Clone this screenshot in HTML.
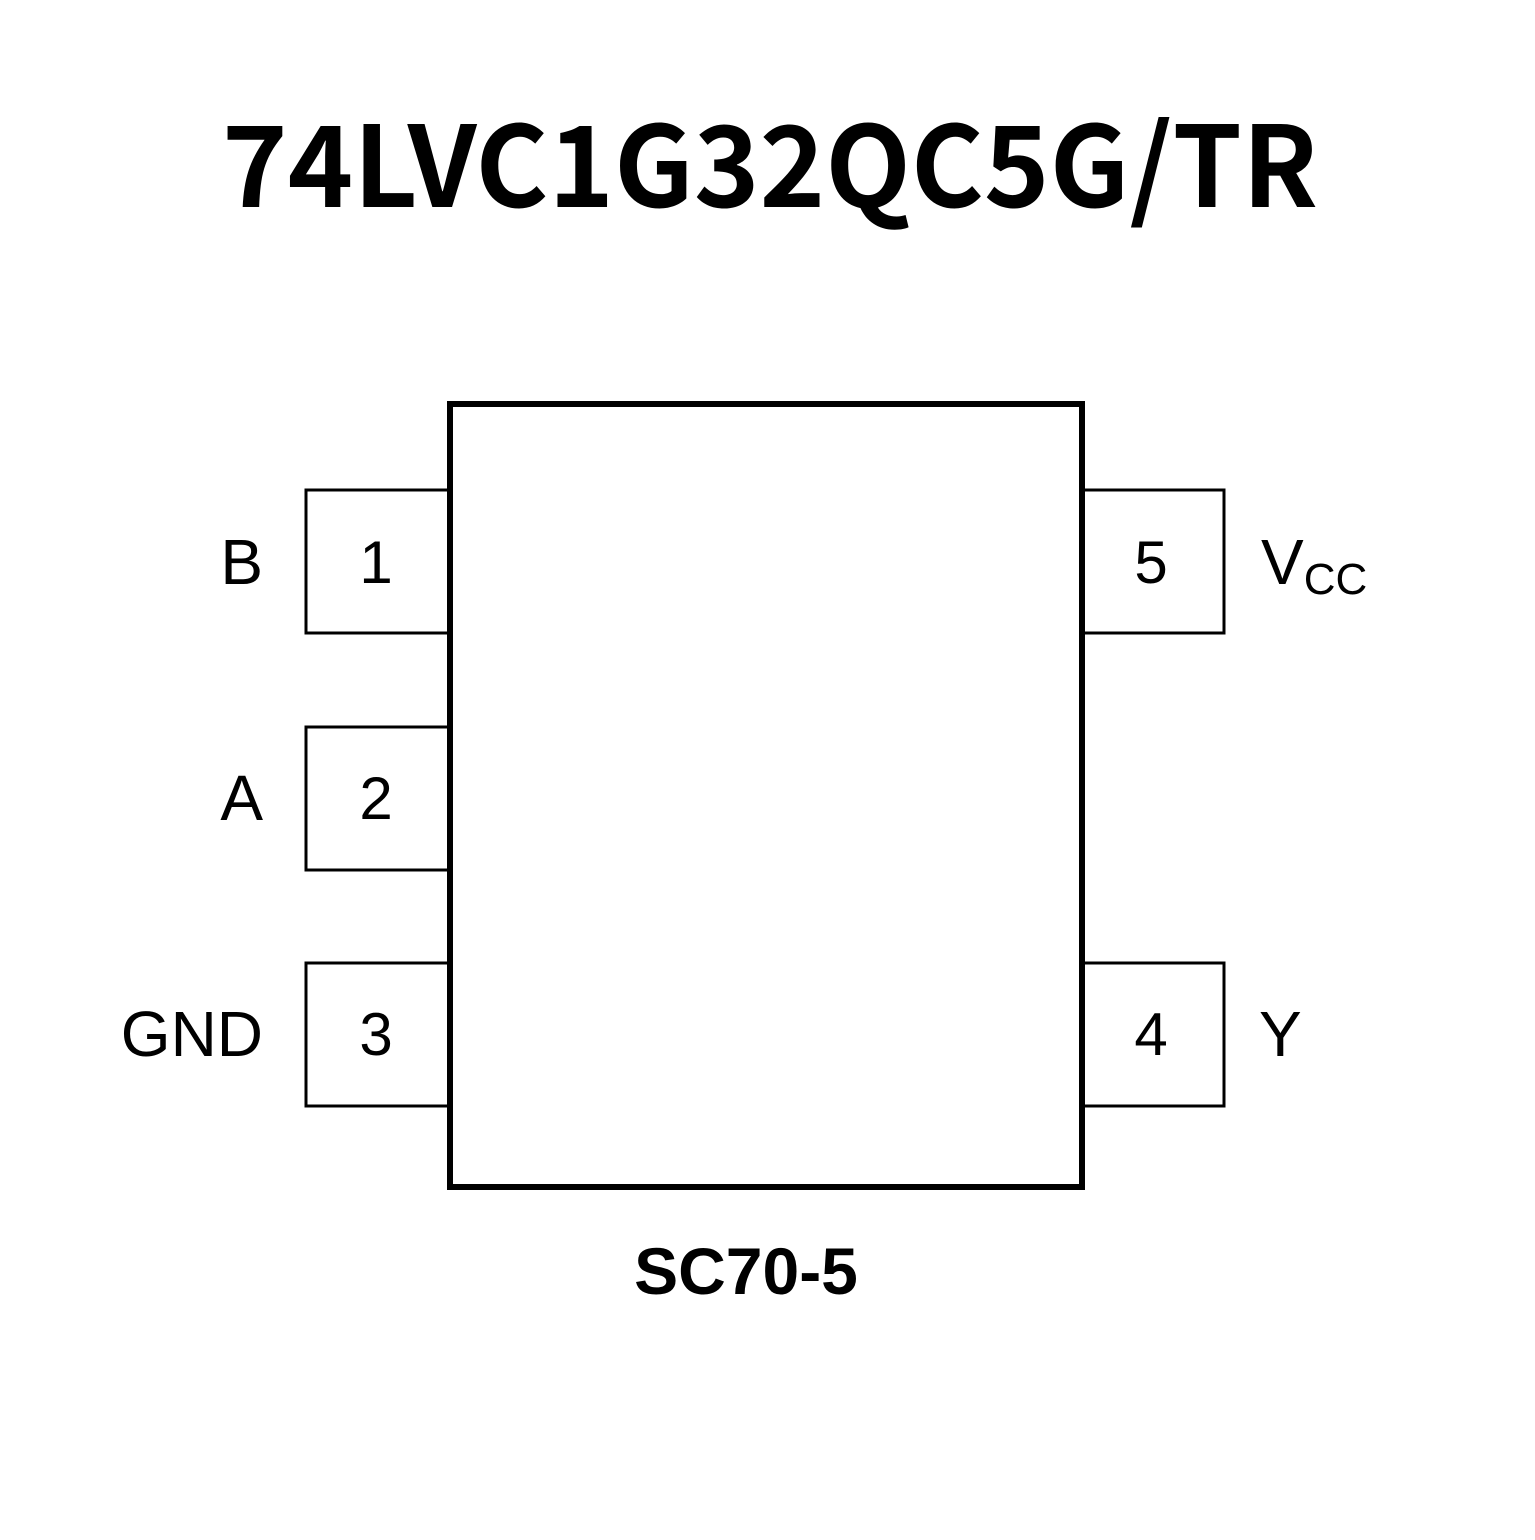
<!DOCTYPE html>
<html><head><meta charset="utf-8"><style>html,body{margin:0;padding:0;background:#fff}</style></head>
<body>
<svg width="1535" height="1535" viewBox="0 0 1535 1535" xmlns="http://www.w3.org/2000/svg">
<rect width="1535" height="1535" fill="#fff"/>
<text x="770" y="207" text-anchor="middle" font-family="'Noto Sans CJK SC','DejaVu Sans',sans-serif" font-weight="bold" font-size="112" textLength="1096" lengthAdjust="spacingAndGlyphs">74LVC1G32QC5G/TR</text>
<g fill="none" stroke="#000">
<rect x="450" y="404" width="632" height="783" stroke-width="6"/>
<path d="M447 490H306V633H447M447 727H306V870H447M447 963H306V1106H447" stroke-width="3"/>
<path d="M1084 490H1224V633H1084M1084 963H1224V1106H1084" stroke-width="3"/>
</g>
<g font-family="'Liberation Sans',sans-serif" font-size="60" fill="#000">
<text x="376" y="583" text-anchor="middle">1</text>
<text x="376" y="819" text-anchor="middle">2</text>
<text x="376" y="1055" text-anchor="middle">3</text>
<text x="1151" y="583" text-anchor="middle">5</text>
<text x="1151" y="1055" text-anchor="middle">4</text>
</g>
<g font-family="'Liberation Sans',sans-serif" font-size="64" fill="#000">
<text x="263" y="584" text-anchor="end">B</text>
<text x="263" y="820" text-anchor="end">A</text>
<text x="263" y="1056" text-anchor="end">GND</text>
<text x="1261" y="584">V<tspan font-size="44" dy="10">CC</tspan></text>
<text x="1259" y="1056">Y</text>
</g>
<text x="746" y="1294" text-anchor="middle" font-family="'Liberation Sans',sans-serif" font-weight="bold" font-size="66">SC70-5</text>
</svg>
</body></html>
